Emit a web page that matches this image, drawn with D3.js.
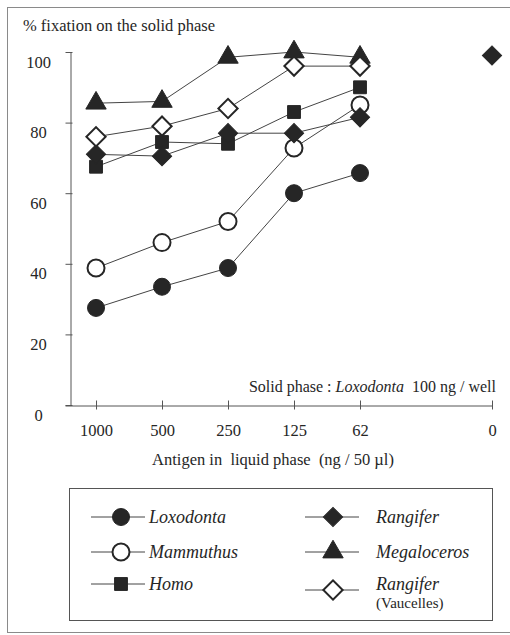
<!DOCTYPE html>
<html>
<head>
<meta charset="utf-8">
<script src="https://cdn.jsdelivr.net/npm/d3@7"></script>
<style>
  body { margin: 0; background: #fff; }
  svg text { font-family: "Liberation Serif", "Times New Roman", serif; }
</style>
</head>
<body>
<svg id="chart" width="510" height="635"></svg>
<script>
// Values (x = dose index, 0 = 1000 ng ... 4 = 62 ng, 6 = 0 ng)
var doseIndex = [0, 1, 2, 3, 4];
var xTickPos = [0, 1, 2, 3, 4, 6];
var xTickLabels = ["1000", "500", "250", "125", "62", "0"];
var yTicks = [0, 20, 40, 60, 80, 100];

var loxodonta = [27.5, 33.5, 38.8, 60, 65.7];
var mammuthus = [38.8, 46, 52, 72.8, 85];
var homo = [67.5, 74.5, 74, 83, 90];
var rangifer = [71, 70.5, 77, 77, 81.5];
var megaloceros = [85.5, 86, 98.5, 100, 98.5];
var rangiferVaucelles = [76, 79, 84, 96, 96];
var rangiferZeroDose = [{ i: 6, v: 99 }];

var series = [
    { name: "Loxodonta", values: loxodonta, shape: "circle", filled: true },
    { name: "Mammuthus", values: mammuthus, shape: "circle", filled: false },
    { name: "Homo", values: homo, shape: "square", filled: true },
    { name: "Rangifer", values: rangifer, shape: "diamond", filled: true },
    { name: "Megaloceros", values: megaloceros, shape: "triangle", filled: true },
    { name: "Rangifer", sub: "(Vaucelles)", values: rangiferVaucelles, shape: "diamond", filled: false }
];

var ink = "#262626";
var svg = d3.select("#chart");

// outer frame (right edge runs off the page)
svg.append("rect")
    .attr("x", 7.5).attr("y", 7.5)
    .attr("width", 530).attr("height", 625)
    .attr("fill", "none").attr("stroke", "#8a8a8a");

var x = d3.scaleLinear().domain([-0.47, 6]).range([65, 492]);
var y = d3.scaleLinear().domain([0, 100]).range([405, 52]);

// y axis
var gy = svg.append("g")
    .attr("transform", "translate(70.5,0)")
    .call(d3.axisLeft(y).tickValues(yTicks).tickSizeOuter(0));
gy.attr("font-family", null);
gy.select(".domain").attr("stroke", "#555");
gy.selectAll(".tick line").attr("x1", -5).attr("x2", 2).attr("stroke", "#555");
gy.selectAll(".tick text")
    .attr("x", -32).attr("dy", 15)
    .attr("text-anchor", "middle")
    .attr("font-size", 16.5).attr("fill", ink);

// x axis
var gx = svg.append("g")
    .attr("transform", "translate(0,405.5)")
    .call(d3.axisBottom(x).tickValues(xTickPos)
        .tickFormat(function(d, i) { return xTickLabels[i]; })
        .tickSizeOuter(0));
gx.attr("font-family", null);
gx.select(".domain").attr("stroke", "#555");
gx.selectAll(".tick line").attr("y1", -5).attr("y2", 4).attr("stroke", "#555");
gx.selectAll(".tick text")
    .attr("y", 30).attr("dy", 0)
    .attr("font-size", 16.5).attr("fill", ink);

// titles
svg.append("text")
    .attr("x", 23).attr("y", 31)
    .attr("font-size", 16.5).attr("fill", ink)
    .text("% fixation on the solid phase");

svg.append("text")
    .attr("x", 273).attr("y", 465)
    .attr("text-anchor", "middle")
    .attr("font-size", 16.5).attr("fill", ink)
    .attr("xml:space", "preserve")
    .text("Antigen in  liquid phase  (ng / 50 \u00b5l)");

var solid = svg.append("text")
    .attr("x", 496).attr("y", 392)
    .attr("text-anchor", "end")
    .attr("font-size", 16).attr("fill", ink)
    .attr("xml:space", "preserve");
solid.append("tspan").text("Solid phase : ");
solid.append("tspan").attr("font-style", "italic").text("Loxodonta");
solid.append("tspan").text("  100 ng / well");

// marker helper
function symbolFor(shape) {
    if (shape === "circle") return d3.symbol(d3.symbolCircle, 227)();
    if (shape === "square") return d3.symbol(d3.symbolSquare, 165)();
    if (shape === "triangle") return d3.symbol(d3.symbolTriangle, 180)();
    return d3.symbol(d3.symbolSquare, 185)();
}
function drawMarker(g, shape, filled, cx, cy) {
    g.append("path")
        .attr("d", symbolFor(shape))
        .attr("transform", "translate(" + cx + "," + cy + ")" + (shape === "diamond" ? " rotate(45)" : ""))
        .attr("fill", filled ? ink : "#fff")
        .attr("stroke", ink)
        .attr("stroke-width", filled ? 1 : 2);
}

var line = d3.line()
    .x(function(d, i) { return x(doseIndex[i]); })
    .y(function(d) { return y(d); });

var plot = svg.append("g");
series.forEach(function(s) {
    plot.append("path")
        .attr("d", line(s.values))
        .attr("fill", "none")
        .attr("stroke", "#444")
        .attr("stroke-width", 1);
});
series.forEach(function(s) {
    s.values.forEach(function(v, i) {
        drawMarker(plot, s.shape, s.filled, x(doseIndex[i]), y(v));
    });
});
rangiferZeroDose.forEach(function(p) {
    drawMarker(plot, "diamond", true, x(p.i), y(p.v));
});

// legend
svg.append("rect")
    .attr("x", 69.5).attr("y", 488.5)
    .attr("width", 423).attr("height", 132)
    .attr("fill", "none").attr("stroke", "#555");

var legendCols = [
    { lineX: [91, 145], markX: 121, textX: 149 },
    { lineX: [305, 359], markX: 333, textX: 376 }
];
var legendRows = [517, 552, 584];

series.forEach(function(s, k) {
    var col = legendCols[Math.floor(k / 3)];
    var cy = legendRows[k % 3];
    var g = svg.append("g");
    var my = cy + (s.sub ? 6 : 0);
    g.append("line")
        .attr("x1", col.lineX[0]).attr("x2", col.lineX[1])
        .attr("y1", my).attr("y2", my)
        .attr("stroke", "#444");
    drawMarker(g, s.shape, s.filled, col.markX, my);
    g.append("text")
        .attr("x", col.textX).attr("y", cy + 6)
        .attr("font-size", 18).attr("font-style", "italic")
        .attr("fill", ink)
        .text(s.name);
    if (s.sub) {
        g.append("text")
            .attr("x", col.textX).attr("y", cy + 24)
            .attr("font-size", 15).attr("fill", ink)
            .text(s.sub);
    }
});
</script>
</body>
</html>
